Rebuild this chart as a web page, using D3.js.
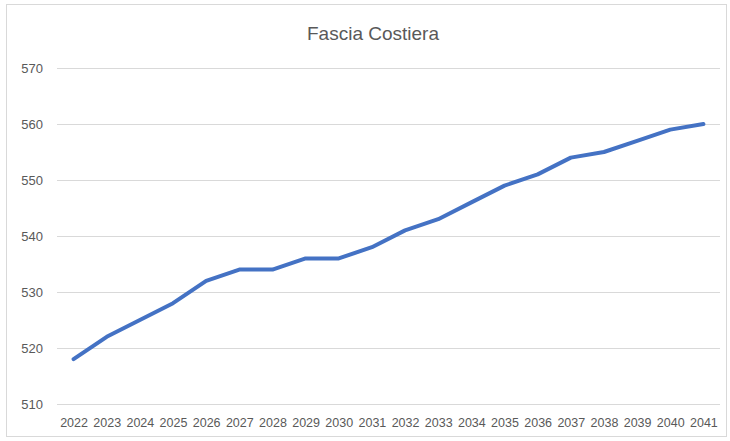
<!DOCTYPE html>
<html>
<head>
<meta charset="utf-8">
<script src="https://cdn.jsdelivr.net/npm/d3@7"></script>
<style>
  body { margin: 0; background: #fff; overflow: hidden; }
  svg { display: block; background: #fff; }
</style>
</head>
<body>
<svg></svg>
<script>
const width = 730
const height = 441

// Data
const years = ["2022", "2023", "2024", "2025", "2026", "2027", "2028", "2029", "2030", "2031",
    "2032", "2033", "2034", "2035", "2036", "2037", "2038", "2039", "2040", "2041"]
const values = [518, 522, 525, 528, 532, 534, 534, 536, 536, 538,
    541, 543, 546, 549, 551, 554, 555, 557, 559, 560]
const yTicks = [510, 520, 530, 540, 550, 560, 570]

const svg = d3.select("svg")
    .attr("width", width)
    .attr("height", height)

const margin = { top: 68, right: 10, bottom: 37, left: 57 }
const innerWidth = width - margin.left - margin.right
const innerHeight = height - margin.top - margin.bottom

const xScale = d3.scalePoint()
    .domain(years)
    .range([0, innerWidth])
    .padding(0.5)

const yScale = d3.scaleLinear()
    .domain([510, 570])
    .range([innerHeight, 0])

const g = svg.append("g")
    .attr("transform", `translate(${margin.left}, ${margin.top})`)

// Y axis with gridlines
const yAxisG = g.append("g")
    .call(d3.axisLeft(yScale).tickValues(yTicks).tickSize(-innerWidth).tickPadding(14))
yAxisG.select(".domain").remove()
yAxisG.selectAll(".tick line").attr("stroke", "#d9d9d9").attr("stroke-width", 1)
yAxisG.selectAll(".tick text")
    .attr("fill", "#595959")
    .attr("font-size", "13px")
    .attr("font-family", "Liberation Sans, Arial, sans-serif")

// X axis
const xAxisG = g.append("g")
    .attr("transform", `translate(0, ${innerHeight})`)
    .call(d3.axisBottom(xScale).tickSize(0).tickPadding(14))
xAxisG.select(".domain").remove()
xAxisG.selectAll(".tick text")
    .attr("fill", "#595959")
    .attr("font-size", "12.5px")
    .attr("font-family", "Liberation Sans, Arial, sans-serif")

// Line
const line = d3.line()
    .x((d, i) => xScale(years[i]))
    .y(d => yScale(d))

g.append("path")
    .datum(values)
    .attr("d", line)
    .attr("fill", "none")
    .attr("stroke", "#4472c4")
    .attr("stroke-width", 4)
    .attr("stroke-linejoin", "round")
    .attr("stroke-linecap", "round")

// Title
svg.append("text")
    .attr("x", 373)
    .attr("y", 40)
    .attr("text-anchor", "middle")
    .attr("fill", "#595959")
    .attr("font-size", "19px")
    .attr("font-family", "Liberation Sans, Arial, sans-serif")
    .text("Fascia Costiera")

// chart border (outline only, drawn last)
svg.append("rect")
    .attr("x", 6.5).attr("y", 4.5)
    .attr("width", 720).attr("height", 432)
    .attr("fill", "none")
    .attr("stroke", "#d9d9d9")
</script>
</body>
</html>
